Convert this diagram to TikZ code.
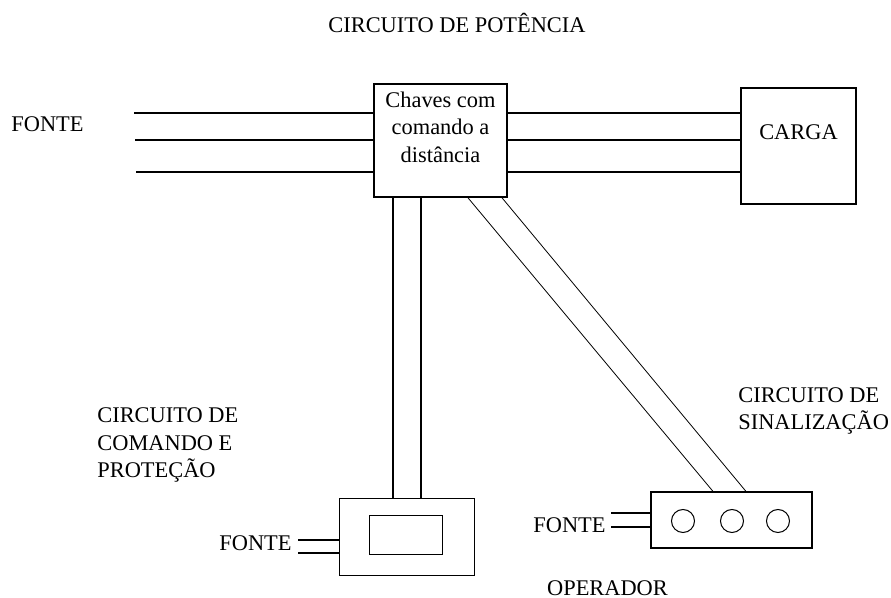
\documentclass[tikz,border=0pt]{standalone}
\usepackage{fontspec}
\setmainfont{Liberation Serif}
\usetikzlibrary{positioning, calc}

\begin{document}
\begin{tikzpicture}[x=0.5pt, y=-0.5pt,
    every node/.style={font=\fontsize{11.2}{13.7}\selectfont},
    caixa/.style={draw, line width=0.8pt, inner sep=0pt},
    fio/.style={line width=0.8pt},
    fino/.style={line width=0.4pt}]
				  \useasboundingbox (0,0) rectangle (891,598);
				  \node (titulo) at (457,23) {CIRCUITO DE POTÊNCIA};
				  \node[caixa, minimum width=66.5pt, minimum height=56.5pt] (chaves) at (440.5,140.5) {};
				  \node[align=center] (chavestxt) at (440.5,127) {Chaves com\\comando a\\distância};
				  \node[caixa, minimum width=57.5pt, minimum height=58pt, text depth=14pt] (carga) at (798.5,146) {CARGA};
				  \node[caixa, line width=0.5pt, minimum width=67.5pt, minimum height=38.5pt] (comando) at (406.5,537.5) {};
				  \node[caixa, line width=0.5pt, minimum width=36.5pt, minimum height=19.5pt] (visor) at (405.5,535.5) {};
				  \node[caixa, line width=0.6pt, minimum width=80.5pt, minimum height=28pt] (sinal) at (731.5,520) {};
				  \foreach \i/\x in {1/683, 2/732, 3/778}
				    \node[draw, circle, line width=0.5pt, minimum size=11.5pt, inner sep=0pt] (luz\i) at (\x,521) {};
				  \coordinate (f1) at (134,113);
				  \coordinate (f2) at (135,140);
				  \coordinate (f3) at (136,172);
				  \draw[fio] (f1) -- (f1 -| chaves.west);
				  \draw[fio] (f2) -- (f2 -| chaves.west);
				  \draw[fio] (f3) -- (f3 -| chaves.west);
				  \draw[fio] (chaves.east |- f1) -- (carga.west |- f1);
				  \draw[fio] (chaves.east |- f2) -- (carga.west |- f2);
				  \draw[fio] (chaves.east |- f3) -- (carga.west |- f3);
				  \draw[fio] ([xshift=-23.75pt]chaves.south) -- ([xshift=-23.75pt]chaves.south |- comando.north);
				  \draw[fio] ([xshift=-9.75pt]chaves.south) -- ([xshift=-9.75pt]chaves.south |- comando.north);
				  \draw[fino] ([xshift=13.75pt]chaves.south) -- ([xshift=-9.25pt]sinal.north);
				  \draw[fino] ([xshift=30.75pt]chaves.south) -- ([xshift=7.25pt]sinal.north);
				  \coordinate (cf1) at (298,540);
				  \coordinate (cf2) at (298,553);
				  \draw[fio] (cf1) -- (cf1 -| comando.west);
				  \draw[fio] (cf2) -- (cf2 -| comando.west);
				  \coordinate (sf1) at (611,513);
				  \coordinate (sf2) at (611,527);
				  \draw[fio] (sf1) -- (sf1 -| sinal.west);
				  \draw[fio] (sf2) -- (sf2 -| sinal.west);
				  \node (fontea) at (47.5,124.5) {FONTE};
				  \node (fonteb) at (255.5,543) {FONTE};
				  \node (fontec) at (569.5,525) {FONTE};
				  \node[align=left, anchor=west, inner sep=0pt] (rotcomando) at (97,445) {CIRCUITO DE\\COMANDO E\\PROTEÇÃO};
				  \node[align=left, anchor=west, inner sep=0pt] (rotsinal) at (738,411) {CIRCUITO DE\\SINALIZAÇÃO};
				  \node[inner sep=0pt] (operador) at (607.5,588) {OPERADOR};
				\end{tikzpicture}
\end{document}
